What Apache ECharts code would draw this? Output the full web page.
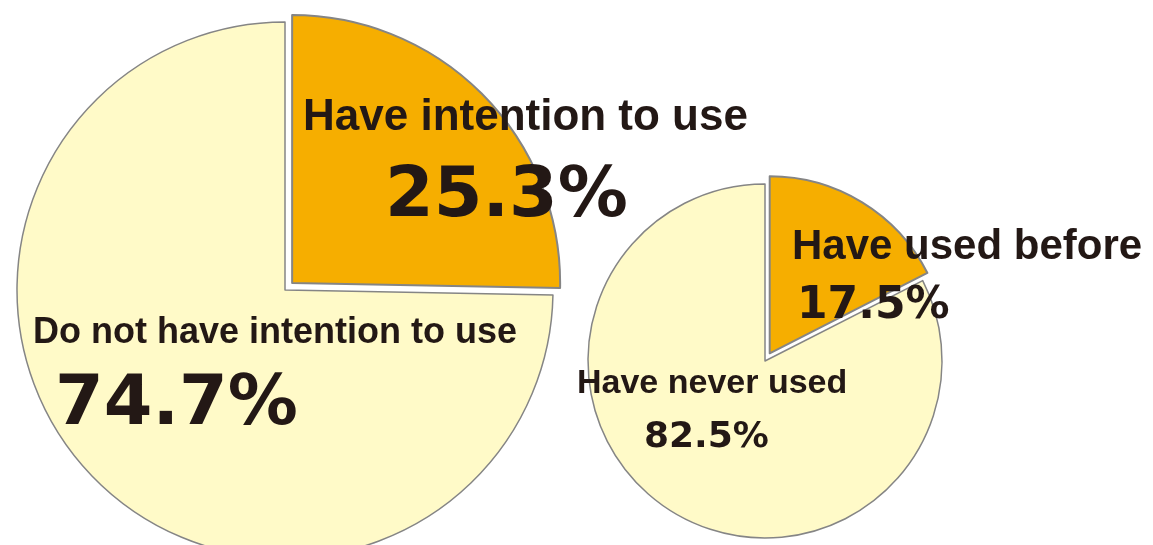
<!DOCTYPE html>
<html>
<head>
<meta charset="utf-8">
<script src="https://cdn.jsdelivr.net/npm/echarts@6/dist/echarts.min.js"></script>
<style>
  html, body { margin: 0; background: #fff; }
  #chart { width: 1153px; height: 545px; }
</style>
</head>
<body>
<div id="chart"></div>
<script>
// 利用意向 / 利用経験
const intentionNames = ['Have intention to use', 'Do not have intention to use'];
const intentionValues = [25.3, 74.7];
const usageNames = ['Have used before', 'Have never used'];
const usageValues = [17.5, 82.5];

const ORANGE = '#F6AE00';
const CREAM = '#FFFAC8';
const EDGE = '#858585';
const INK = '#231815';

// label block top-left per pie / slice, plus text sizes
const labelSpots = [
  [{ x: 303, y: 85 }, { x: 33, y: 308 }],
  [{ x: 792, y: 221 }, { x: 577, y: 362 }]
];
const labelLook = [
  [
    { name: 44, nameLh: 65, val: 70, valLh: 96, indent: 82 },
    { name: 36, nameLh: 50, val: 70, valLh: 96, indent: 22 }
  ],
  [
    { name: 42, nameLh: 52, val: 44, valLh: 68, indent: 5 },
    { name: 34, nameLh: 43, val: 36, valLh: 66, indent: 67 }
  ]
];

const common = (center, radius) => ({
  type: 'pie',
  center,
  radius,
  startAngle: 90,
  clockwise: true,
  silent: true,
  avoidLabelOverlap: false,
  emphasis: { disabled: true },
  labelLine: { show: false }
});

// the slices themselves, first slice pulled out
const sliceSeries = (names, values, center, radius, offset) => ({
  ...common(center, radius),
  selectedMode: 'single',
  selectedOffset: offset,
  itemStyle: { borderColor: EDGE, borderWidth: 1.5 },
  select: { itemStyle: { borderColor: EDGE, borderWidth: 2 }, label: { show: false } },
  label: { show: false },
  data: names.map((name, i) => ({
    name,
    value: values[i],
    selected: i === 0,
    itemStyle: { color: i === 0 ? ORANGE : CREAM }
  }))
});

// transparent twin that only carries the labels
const labelSeries = (names, values, s, center, radius) => ({
  ...common(center, radius),
  z: 5,
  itemStyle: { color: 'rgba(0,0,0,0)', borderWidth: 0 },
  label: {
    show: true,
    position: 'inside',
    formatter: (p) => `{n|${p.name}}\n{v|${p.value}%}`
  },
  labelLayout: (p) => ({
    x: labelSpots[s][p.dataIndex].x,
    y: labelSpots[s][p.dataIndex].y,
    align: 'left',
    verticalAlign: 'top'
  }),
  data: names.map((name, i) => {
    const look = labelLook[s][i];
    return {
      name,
      value: values[i],
      label: {
        rich: {
          n: {
            fontFamily: 'Liberation Sans',
            fontWeight: 'bold',
            fontSize: look.name,
            lineHeight: look.nameLh,
            color: INK
          },
          v: {
            fontFamily: 'DejaVu Sans',
            fontWeight: 'bold',
            fontSize: look.val,
            lineHeight: look.valLh,
            color: INK,
            padding: [0, 0, 0, look.indent]
          }
        }
      }
    };
  })
});

const chart = echarts.init(document.getElementById('chart'));
chart.setOption({
  animation: false,
  series: [
    sliceSeries(intentionNames, intentionValues, [285, 290], 268, 10),
    sliceSeries(usageNames, usageValues, [765, 361], 177, 9),
    labelSeries(intentionNames, intentionValues, 0, [285, 290], 268),
    labelSeries(usageNames, usageValues, 1, [765, 361], 177)
  ]
});
window.addEventListener('resize', () => chart.resize());
</script>
</body>
</html>
